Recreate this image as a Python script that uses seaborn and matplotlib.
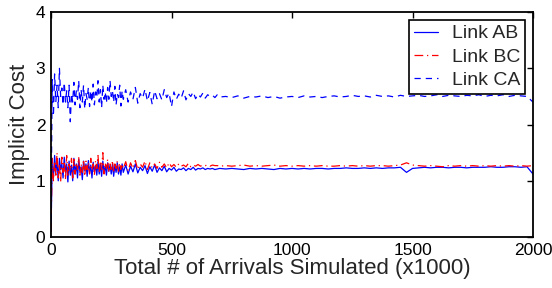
import matplotlib
matplotlib.use("Agg")
import matplotlib.pyplot as plt
import seaborn as sns
import pandas as pd

# sampling positions (x1000 arrivals)
x_early = list(range(0, 305, 5))
x_mid = list(range(310, 705, 10))
x_late = list(range(725, 2001, 25))
x_all = x_early + x_mid + x_late

ca_vals = [
    0.3, 2.8, 2.15, 2.9, 2.4, 2.7, 2.3, 3.0, 2.5, 2.65,
    2.35, 2.75, 2.4, 2.6, 2.3, 2.7, 2.05, 2.55, 2.4, 2.75,
    2.35, 2.6, 2.45, 2.78, 2.3, 2.62, 2.4, 2.7, 2.28, 2.55,
    2.45, 2.66, 2.32, 2.6, 2.4, 2.72, 2.35, 2.58, 2.48, 2.78,
    2.4, 2.62, 2.3, 2.7, 2.45, 2.58, 2.38, 2.66, 2.45, 2.78,
    2.5, 2.6, 2.4, 2.68, 2.35, 2.55, 2.48, 2.7, 2.33, 2.6,
    2.45,
    2.62, 2.4, 2.58, 2.45, 2.66, 2.38, 2.55, 2.47, 2.63, 2.42,
    2.57, 2.36, 2.6, 2.46, 2.55, 2.44, 2.62, 2.48, 2.56, 2.32,
    2.58, 2.45, 2.54, 2.47, 2.6, 2.44, 2.55, 2.5, 2.58, 2.46,
    2.54, 2.49, 2.56, 2.47, 2.53, 2.5, 2.52, 2.48, 2.53, 2.49,
    2.5, 2.48, 2.51, 2.47, 2.5, 2.49, 2.51, 2.48, 2.5, 2.47,
    2.49, 2.5, 2.48, 2.51, 2.49, 2.5, 2.48, 2.5, 2.51, 2.49,
    2.5, 2.52, 2.5, 2.51, 2.49, 2.52, 2.5, 2.51, 2.49, 2.52,
    2.5, 2.51, 2.52, 2.5, 2.51, 2.53, 2.5, 2.52, 2.51, 2.5,
    2.52, 2.51, 2.53, 2.5, 2.52, 2.51, 2.53, 2.5, 2.52, 2.51,
    2.5, 2.4,
]

ab_vals = [
    0.1, 1.3, 1.05, 1.45, 1.15, 1.35, 1.0, 1.4, 1.2, 1.3,
    1.05, 1.42, 1.15, 1.3, 0.98, 1.35, 1.1, 1.28, 1.0, 1.4,
    1.12, 1.3, 1.05, 1.38, 1.15, 1.25, 1.02, 1.35, 1.18, 1.3,
    1.08, 1.36, 1.14, 1.28, 1.05, 1.33, 1.16, 1.27, 1.1, 1.34,
    1.12, 1.3, 1.08, 1.35, 1.15, 1.26, 1.1, 1.32, 1.17, 1.28,
    1.12, 1.3, 1.08, 1.27, 1.15, 1.32, 1.12, 1.25, 1.1, 1.3,
    1.15,
    1.28, 1.12, 1.26, 1.16, 1.3, 1.14, 1.24, 1.18, 1.27, 1.13,
    1.25, 1.17, 1.28, 1.15, 1.23, 1.18, 1.26, 1.16, 1.22, 1.19,
    1.24, 1.17, 1.21, 1.2, 1.23, 1.18, 1.22, 1.2, 1.24, 1.19,
    1.22, 1.21, 1.23, 1.2, 1.22, 1.21, 1.22, 1.2, 1.21, 1.22,
    1.21, 1.22, 1.21, 1.2, 1.22, 1.21, 1.22, 1.21, 1.2, 1.22,
    1.21, 1.22, 1.21, 1.22, 1.21, 1.22, 1.22, 1.21, 1.22, 1.22,
    1.23, 1.22, 1.22, 1.23, 1.22, 1.23, 1.22, 1.23, 1.23, 1.24,
    1.15, 1.22, 1.23, 1.24, 1.23, 1.24, 1.24, 1.23, 1.24, 1.24,
    1.23, 1.24, 1.24, 1.24, 1.25, 1.24, 1.24, 1.25, 1.25, 1.24,
    1.25, 1.12,
]

bc_vals = [
    0.1, 1.4, 1.0, 1.35, 1.1, 1.5, 1.05, 1.3, 0.98, 1.42,
    1.15, 1.35, 1.02, 1.45, 1.1, 1.3, 1.18, 1.4, 1.05, 1.38,
    1.12, 1.32, 1.2, 1.42, 1.1, 1.3, 1.15, 1.38, 1.08, 1.35,
    1.2, 1.33, 1.12, 1.4, 1.18, 1.3, 1.1, 1.36, 1.22, 1.45,
    1.15, 1.35, 1.2, 1.5, 1.12, 1.32, 1.22, 1.38, 1.15, 1.3,
    1.2, 1.36, 1.14, 1.3, 1.22, 1.35, 1.17, 1.32, 1.2, 1.3,
    1.22,
    1.34, 1.18, 1.32, 1.22, 1.36, 1.2, 1.3, 1.24, 1.35, 1.2,
    1.32, 1.23, 1.3, 1.22, 1.33, 1.24, 1.3, 1.23, 1.32, 1.25,
    1.29, 1.24, 1.3, 1.26, 1.28, 1.25, 1.31, 1.25, 1.28, 1.26,
    1.29, 1.26, 1.28, 1.27, 1.28, 1.26, 1.28, 1.27, 1.27, 1.26,
    1.27, 1.26, 1.27, 1.28, 1.26, 1.27, 1.26, 1.27, 1.28, 1.26,
    1.27, 1.26, 1.27, 1.26, 1.27, 1.26, 1.27, 1.26, 1.26, 1.27,
    1.26, 1.27, 1.26, 1.27, 1.26, 1.27, 1.27, 1.26, 1.27, 1.28,
    1.32, 1.28, 1.27, 1.26, 1.27, 1.26, 1.25, 1.27, 1.26, 1.27,
    1.26, 1.27, 1.26, 1.27, 1.26, 1.27, 1.26, 1.27, 1.26, 1.27,
    1.26, 1.27,
]

series_names = ["Link AB", "Link BC", "Link CA"]
x_ticks = [0, 500, 1000, 1500, 2000]
y_ticks = [0, 1, 2, 3, 4]

sns.set_style("white")
plt.rcParams["font.family"] = ["Liberation Sans", "DejaVu Sans"]

fig = plt.figure(figsize=(5.52, 2.88), dpi=100)
ax = fig.add_axes([0.0924, 0.177, 0.8732, 0.781])

df_ab = pd.DataFrame({"x": x_all, "y": ab_vals})
df_bc = pd.DataFrame({"x": x_all, "y": bc_vals})
df_ca = pd.DataFrame({"x": x_all, "y": ca_vals})

sns.lineplot(data=df_ab, x="x", y="y", ax=ax, color="#0000ff", lw=0.9,
             linestyle="-", label=series_names[0], sort=False, estimator=None)
sns.lineplot(data=df_bc, x="x", y="y", ax=ax, color="#ff0000", lw=0.9,
             linestyle=(0, (7, 3, 1, 3)), label=series_names[1], sort=False,
             estimator=None)
sns.lineplot(data=df_ca, x="x", y="y", ax=ax, color="#0000ff", lw=0.9,
             linestyle=(0, (5, 4)), label=series_names[2], sort=False,
             estimator=None)

ax.set_xlim(0, 2000)
ax.set_ylim(0, 4)
ax.set_xticks(x_ticks)
ax.set_yticks(y_ticks)
ax.tick_params(direction="in", top=True, right=True, length=4, width=1,
               labelsize=12.5, colors="black", pad=4)
for s in ax.spines.values():
    s.set_linewidth(1.3)
    s.set_color("black")
ax.set_xlabel("Total # of Arrivals Simulated (x1000)", fontsize=16, labelpad=0)
ax.set_ylabel("Implicit Cost", fontsize=16, labelpad=4)

leg = ax.legend(loc="upper right", fontsize=14, frameon=True, fancybox=False,
                edgecolor="black", framealpha=1, borderaxespad=0.4,
                handlelength=1.25, handletextpad=0.7, labelspacing=0.3,
                borderpad=0.25)
leg.get_frame().set_linewidth(1.2)

fig.savefig("out.png", dpi=100)
